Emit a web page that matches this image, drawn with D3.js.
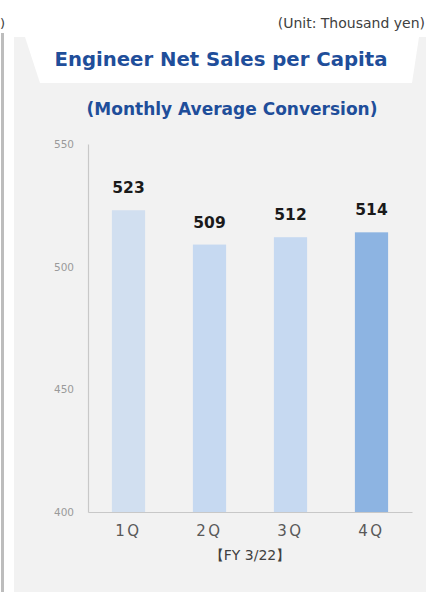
<!DOCTYPE html>
<html>
<head>
<meta charset="utf-8">
<script src="https://cdn.jsdelivr.net/npm/d3@7"></script>
<style>
  html, body { margin: 0; padding: 0; background: #ffffff; }
  svg { display: block; }
</style>
</head>
<body>
<svg id="chart" width="426" height="592"></svg>
<script>
// Quarterly engineer net sales per capita (thousand yen, monthly average)
const quarters = ["1Q", "2Q", "3Q", "4Q"];
const salesPerCapita = [523, 509, 512, 514];
const barColors = ["#d1dff0", "#c6d9f1", "#c6d9f1", "#8db4e2"];
const yTicks = [400, 450, 500, 550];

const svg = d3.select("#chart");
const W = 426, H = 592;
const font = "'DejaVu Sans', Verdana, sans-serif";
const blue = "#1f4e9a";

// Panel background
svg.append("rect").attr("x", 0).attr("y", 0).attr("width", W).attr("height", H).attr("fill", "#ffffff");
svg.append("rect").attr("x", 14).attr("y", 37).attr("width", W - 14).attr("height", H - 37).attr("fill", "#f2f2f2");
// Divider from the neighbouring panel
svg.append("rect").attr("x", 1).attr("y", 33).attr("width", 3).attr("height", H - 33).attr("fill", "#bdbdbd");
svg.append("text").attr("x", 0).attr("y", 28).attr("font-family", font).attr("font-size", 13)
  .attr("fill", "#404040").text(")");

// Title banner (white trapezoid)
svg.append("path")
  .attr("d", "M25,37 L419,37 L412,83 L40,83 Z")
  .attr("fill", "#ffffff");

svg.append("text")
  .attr("x", W - 1).attr("y", 28).attr("text-anchor", "end")
  .attr("font-family", font).attr("font-size", 14).attr("fill", "#404040")
  .text("(Unit: Thousand yen)");

svg.append("text")
  .attr("x", 221).attr("y", 66).attr("text-anchor", "middle")
  .attr("font-family", font).attr("font-size", 19.7).attr("font-weight", "bold").attr("fill", blue)
  .text("Engineer Net Sales per Capita");

svg.append("text")
  .attr("x", 232).attr("y", 115).attr("text-anchor", "middle")
  .attr("font-family", font).attr("font-size", 17).attr("font-weight", "bold").attr("fill", blue)
  .text("(Monthly Average Conversion)");

// Scales
const x = d3.scaleBand().domain(quarters).range([88, 412]).paddingInner(0.59).paddingOuter(0.295);
const y = d3.scaleLinear().domain([400, 550]).range([512, 144]);

// Axes
const yAxis = svg.append("g").attr("transform", "translate(88,0)")
  .call(d3.axisLeft(y).tickValues(yTicks).tickSize(0).tickPadding(14));
yAxis.select(".domain").attr("stroke", "#c8c8c8").attr("stroke-width", 1.2);
yAxis.selectAll("text").attr("font-family", font).attr("font-size", 10.5).attr("fill", "#9a9a9a");

const xAxis = svg.append("g").attr("transform", "translate(0,512)")
  .call(d3.axisBottom(x).tickSize(0).tickPadding(13));
xAxis.select(".domain").attr("stroke", "#c8c8c8").attr("stroke-width", 1.2);
xAxis.selectAll("text").attr("font-family", font).attr("font-size", 15).attr("fill", "#595959")
  .attr("letter-spacing", "2.5px");

// Bars
svg.append("g").selectAll("rect").data(quarters).join("rect")
  .attr("x", d => x(d))
  .attr("y", (d, i) => y(salesPerCapita[i]))
  .attr("width", x.bandwidth())
  .attr("height", (d, i) => y(400) - y(salesPerCapita[i]))
  .attr("fill", (d, i) => barColors[i]);

// Value labels
svg.append("g").selectAll("text").data(quarters).join("text")
  .attr("x", d => x(d) + x.bandwidth() / 2)
  .attr("y", (d, i) => y(salesPerCapita[i]) - 17)
  .attr("text-anchor", "middle")
  .attr("font-family", font).attr("font-size", 15.5).attr("font-weight", "bold").attr("fill", "#1a1a1a")
  .text((d, i) => salesPerCapita[i]);

// Fiscal year caption
svg.append("text")
  .attr("x", 250).attr("y", 560).attr("text-anchor", "middle")
  .attr("font-family", font).attr("font-size", 14).attr("fill", "#404040")
  .text("【FY 3/22】");
</script>
</body>
</html>
